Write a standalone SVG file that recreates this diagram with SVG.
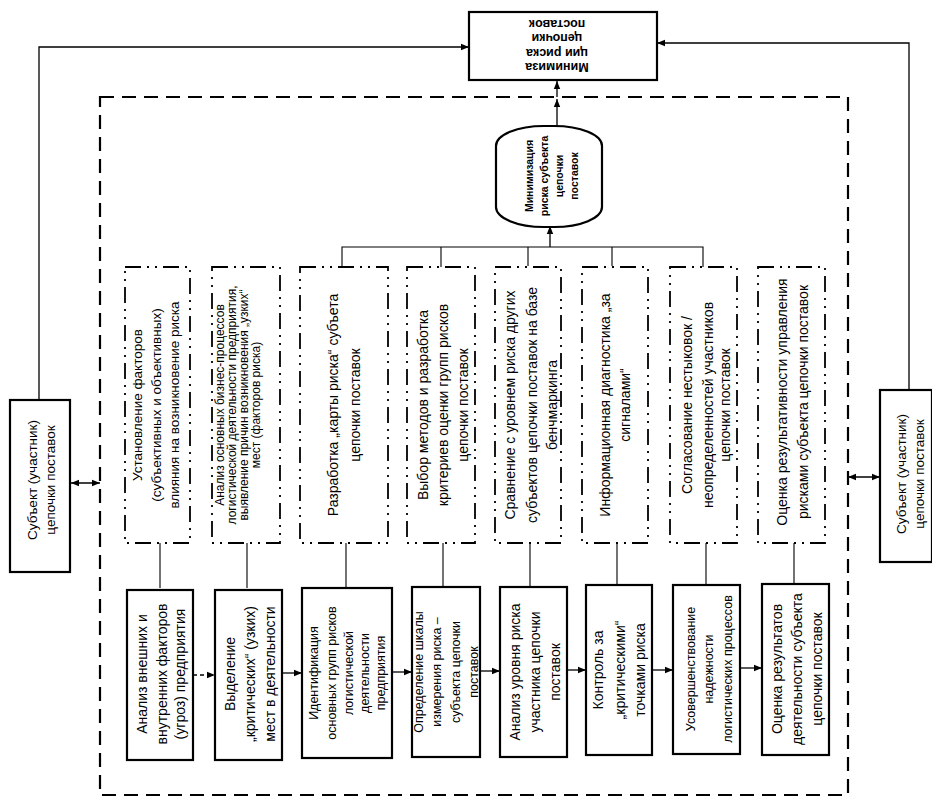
<svg xmlns="http://www.w3.org/2000/svg" width="932" height="803" viewBox="0 0 932 803">
<defs>
<marker id="ah" viewBox="0 0 10 10" refX="10" refY="5" markerWidth="9" markerHeight="8" markerUnits="userSpaceOnUse" orient="auto-start-reverse"><path d="M0,1 L10,5 L0,9 z" fill="#000"/></marker>
</defs>
<style>
text{font-family:"Liberation Sans",Arial,sans-serif;fill:#000;text-anchor:middle}
.solid{fill:#fff;stroke:#000;stroke-width:2.2}
.dd{fill:#fff;stroke:#000;stroke-width:1.8;stroke-dasharray:16 6 2 6 2 6}
.outer{fill:none;stroke:#000;stroke-width:2.2;stroke-dasharray:14 8}
.ln{fill:none;stroke:#000;stroke-width:1.1}
.arr{fill:none;stroke:#000;stroke-width:1.3;marker-end:url(#ah)}
.dbl{fill:none;stroke:#000;stroke-width:1.5;marker-start:url(#ah);marker-end:url(#ah)}
.f14{font-size:14px}
.f13{font-size:13.5px}
.f12{font-size:12.5px}
.f11{font-size:12px}
.f10{font-size:10.5px}
.b{font-weight:bold}
</style>
<rect width="932" height="803" fill="#fff"/>

<g id="frame"><rect class="outer" x="100" y="97" width="748" height="698"/></g>

<g id="connectors">
<path class="arr" d="M39,400 V47 H469"/>
<path class="arr" d="M909,390 V43 H657"/>
<path class="arr" d="M557,127 V99"/>
<path class="arr" d="M557,97 V81"/>
<path class="ln" d="M342,268 V247 H703 V267"/>
<path class="ln" d="M441,247 V267 M528,247 V266 M612,247 V266"/>
<path class="arr" d="M550,247 V226"/>
<path class="dbl" d="M71,483 H100"/>
<path class="dbl" d="M848,477 H880"/>
<path class="ln" d="M160,543 V588 M247,543 V588 M346,543 V588 M443,543 V588 M530,543 V588 M617,543 V588 M706,543 V588 M794,543 V588"/>
<path class="arr" d="M193,675 H215" stroke-dasharray="4 3"/>
<path class="arr" d="M282,673 H302"/>
<path class="arr" d="M392,672 H412"/>
<path class="arr" d="M480,671 H500"/>
<path class="arr" d="M567,670 H586"/>
<path class="arr" d="M652,670 H673"/>
<path class="arr" d="M740,668 H762"/>
</g>

<g id="top-box">
<rect class="solid" x="469" y="12" width="188" height="68"/>
<text class="f12 b" transform="rotate(180 557 46)"><tspan x="557" y="29">Минимиза</tspan><tspan x="557" y="43">ции риска</tspan><tspan x="557" y="58">цепочки</tspan><tspan x="557" y="72">поставок</tspan></text>
</g>

<g id="subject-left">
<rect class="solid" x="10" y="400" width="60" height="172"/>
<text class="f13" transform="translate(40 480) rotate(-90)"><tspan x="0" y="-3">Субъект (участник)</tspan><tspan x="0" y="15">цепочки поставок</tspan></text>
</g>

<g id="subject-right">
<rect class="solid" x="880" y="390" width="52" height="172"/>
<text class="f13" transform="translate(906 474) rotate(-90)"><tspan x="0" y="0">Субъект (участник)</tspan><tspan x="0" y="18">цепочки поставок</tspan></text>
</g>

<g id="goal">
<rect class="solid" x="496" y="126" width="106" height="101" rx="48" ry="20"/>
<text class="f10 b" transform="translate(551 176) rotate(-90)"><tspan x="0" y="-18">Минимизация</tspan><tspan x="0" y="-3">риска субъекта</tspan><tspan x="0" y="12">цепочки</tspan><tspan x="0" y="27">поставок</tspan></text>
</g>

<g id="t1">
<rect class="dd" x="125" y="267" width="65" height="276"/>
<text class="f13" transform="translate(157.5 405) rotate(-90)"><tspan x="0" y="-15.5">Установление факторов</tspan><tspan x="0" y="3">(субъективных и объективных)</tspan><tspan x="0" y="21.5">влияния на возникновение риска</tspan></text>
</g>
<g id="t2">
<rect class="dd" x="212" y="267" width="68" height="276"/>
<text class="f11" transform="translate(246 405) rotate(-90)"><tspan x="0" y="-21.8">Анализ основных бизнес-процессов</tspan><tspan x="0" y="-9.8">логистической деятельности предприятия,</tspan><tspan x="0" y="1.8">выявление причин возникновения „узких“</tspan><tspan x="0" y="13.6">мест (факторов риска)</tspan></text>
</g>
<g id="t3">
<rect class="dd" x="300" y="267" width="88" height="276"/>
<text class="f14" transform="translate(344 405) rotate(-90)"><tspan x="0" y="-6">Разработка „карты риска“ субъета</tspan><tspan x="0" y="16">цепочки поставок</tspan></text>
</g>
<g id="t4">
<rect class="dd" x="407" y="267" width="68" height="276"/>
<text class="f14" transform="translate(441 405) rotate(-90)"><tspan x="0" y="-13">Выбор методов и разработка</tspan><tspan x="0" y="7">критериев оценки групп рисков</tspan><tspan x="0" y="27">цепочки поставок</tspan></text>
</g>
<g id="t5">
<rect class="dd" x="495" y="267" width="66" height="276"/>
<text class="f14" transform="translate(528 405) rotate(-90)"><tspan x="0" y="-13">Сравнение с уровнем риска других</tspan><tspan x="0" y="9">субъектов цепочки поставок на базе</tspan><tspan x="0" y="29">бенчмаркинга</tspan></text>
</g>
<g id="t6">
<rect class="dd" x="582" y="267" width="66" height="276"/>
<text class="f14" transform="translate(615 405) rotate(-90)"><tspan x="0" y="-5">Информационная диагностика „за</tspan><tspan x="0" y="15">сигналами“</tspan></text>
</g>
<g id="t7">
<rect class="dd" x="670" y="267" width="67" height="276"/>
<text class="f14" transform="translate(703.5 405) rotate(-90)"><tspan x="0" y="-11.5">Согласование нестыковок /</tspan><tspan x="0" y="9.5">неопределенностей участников</tspan><tspan x="0" y="26.5">цепочки поставок</tspan></text>
</g>
<g id="t8">
<rect class="dd" x="758" y="267" width="67" height="276"/>
<text class="f14" transform="translate(791.5 402) rotate(-90)"><tspan x="0" y="-4.5">Оценка результативности управления</tspan><tspan x="0" y="16.5">рисками субъекта цепочки поставок</tspan></text>
</g>

<g id="b1">
<rect class="solid" x="127" y="590" width="66" height="170"/>
<text class="f14" transform="translate(160 674) rotate(-90)"><tspan x="0" y="-13">Анализ внешних и</tspan><tspan x="0" y="7">внутренних факторов</tspan><tspan x="0" y="25">(угроз) предприятия</tspan></text>
</g>
<g id="b2">
<rect class="solid" x="215" y="590" width="67" height="170"/>
<text class="f14" transform="translate(248.5 674) rotate(-90)"><tspan x="0" y="-13.5">Выделение</tspan><tspan x="0" y="6.5">„критических“ (узких)</tspan><tspan x="0" y="26.5">мест в деятельности</tspan></text>
</g>
<g id="b3">
<rect class="solid" x="302" y="588" width="90" height="170"/>
<text class="f12" transform="translate(347 673) rotate(-90)"><tspan x="0" y="-29.5">Идентификация</tspan><tspan x="0" y="-11">основных групп рисков</tspan><tspan x="0" y="5.5">логистической</tspan><tspan x="0" y="22">деятельности</tspan><tspan x="0" y="37.5">предприятия</tspan></text>
</g>
<g id="b4">
<rect class="solid" x="412" y="587" width="68" height="170"/>
<text class="f12" transform="translate(446 672) rotate(-90)"><tspan x="0" y="-23.5">Определение шкалы</tspan><tspan x="0" y="-5">измерения риска –</tspan><tspan x="0" y="13.5">субъекта цепочки</tspan><tspan x="0" y="31.5">поставок</tspan></text>
</g>
<g id="b5">
<rect class="solid" x="500" y="587" width="67" height="170"/>
<text class="f14" transform="translate(533.5 672) rotate(-90)"><tspan x="0" y="-13.5">Анализ уровня риска</tspan><tspan x="0" y="6.5">участника цепочки</tspan><tspan x="0" y="26.5">поставок</tspan></text>
</g>
<g id="b6">
<rect class="solid" x="586" y="585" width="66" height="170"/>
<text class="f14" transform="translate(619 670) rotate(-90)"><tspan x="0" y="-16">Контроль за</tspan><tspan x="0" y="6">„критическими“</tspan><tspan x="0" y="26">точками риска</tspan></text>
</g>
<g id="b7">
<rect class="solid" x="673" y="585" width="67" height="169"/>
<text class="f12" transform="translate(706.5 669) rotate(-90)"><tspan x="0" y="-12">Усовершенствование</tspan><tspan x="0" y="6">надежности</tspan><tspan x="0" y="25">логистических процессов</tspan></text>
</g>
<g id="b8">
<rect class="solid" x="762" y="584" width="67" height="171"/>
<text class="f14" transform="translate(795.5 669) rotate(-90)"><tspan x="0" y="-13.5">Оценка результатов</tspan><tspan x="0" y="6.5">деятельности субъекта</tspan><tspan x="0" y="26.5">цепочки поставок</tspan></text>
</g>
</svg>
